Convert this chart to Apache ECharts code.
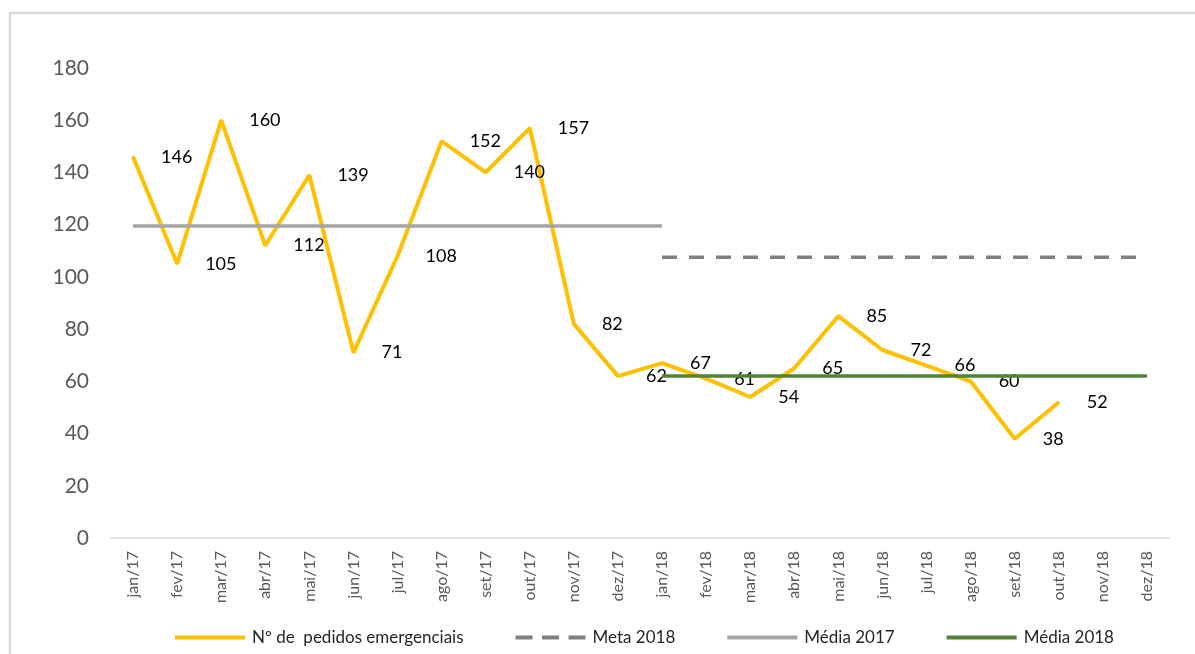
<!DOCTYPE html>
<html>
<head>
<meta charset="utf-8">
<script src="https://cdn.jsdelivr.net/npm/echarts@6/dist/echarts.min.js"></script>
<style>
html,body{margin:0;padding:0;background:#fff;}
#chart{width:1195px;height:654px;}
</style>
</head>
<body>
<div id="chart"></div>
<script>
const categories = ['jan/17','fev/17','mar/17','abr/17','mai/17','jun/17','jul/17','ago/17','set/17','out/17','nov/17','dez/17',
  'jan/18','fev/18','mar/18','abr/18','mai/18','jun/18','jul/18','ago/18','set/18','out/18','nov/18','dez/18'];
const pedidos = [146,105,160,112,139,71,108,152,140,157,82,62,67,61,54,65,85,72,66,60,38,52,null,null];
const meta2018 = [null,null,null,null,null,null,null,null,null,null,null,null,
  107.5,107.5,107.5,107.5,107.5,107.5,107.5,107.5,107.5,107.5,107.5,107.5];
const media2017 = [119.5,119.5,119.5,119.5,119.5,119.5,119.5,119.5,119.5,119.5,119.5,119.5,119.5,
  null,null,null,null,null,null,null,null,null,null,null];
const media2018 = [null,null,null,null,null,null,null,null,null,null,null,null,
  62,62,62,62,62,62,62,62,62,62,62,62];
const yTicks = [0,20,40,60,80,100,120,140,160,180];

const FONT = 'Lato, "Open Sans", sans-serif';
const chart = echarts.init(document.getElementById('chart'), null, {renderer:'canvas'});
chart.setOption({
  backgroundColor:'#ffffff',
  animation:false,
  graphic:[{
    type:'rect', shape:{x:10, y:13, width:1200, height:700},
    style:{fill:'none', stroke:'#d9d9d9', lineWidth:2.5}, silent:true, z:-1
  }],
  grid:{left:111, right:26, top:68, bottom:116, containLabel:false},
  legend:{
    left:170, top:624, itemWidth:70, itemHeight:4, itemGap:52,
    textStyle:{fontFamily:FONT, fontSize:17, color:'#262626', padding:[0,0,0,2]},
    data:[
      {name:'Nº de  pedidos emergenciais', icon:'rect'},
      {name:'Meta 2018', icon:'path://M0,0h17v4h-17z M26.5,0h17v4h-17z M53,0h17v4h-17z'},
      {name:'Média 2017', icon:'rect'},
      {name:'Média 2018', icon:'rect'}
    ]
  },
  xAxis:{
    type:'category', data:categories, boundaryGap:true,
    axisLine:{lineStyle:{color:'#d9d9d9', width:1.5}},
    axisTick:{show:false},
    axisLabel:{rotate:90, interval:0, margin:13, fontFamily:FONT, fontSize:16, color:'#595959'}
  },
  yAxis:{
    type:'value', min:yTicks[0], max:yTicks[yTicks.length-1], interval:20,
    axisLine:{show:false}, axisTick:{show:false}, splitLine:{show:false},
    axisLabel:{margin:22, fontFamily:FONT, fontSize:21, color:'#595959'}
  },
  series:[
    {
      name:'Nº de  pedidos emergenciais', type:'line', data:pedidos,
      symbol:'circle', symbolSize:2, showSymbol:true,
      lineStyle:{color:'#FFC000', width:4},
      itemStyle:{color:'#FFC000'},
      label:{show:true, position:'right', distance:27, fontFamily:FONT, fontSize:18, color:'#000000'},
      z:2
    },
    {
      name:'Meta 2018', type:'line', data:meta2018, symbol:'none',
      lineStyle:{color:'#808080', width:3.5, type:[15,12]},
      itemStyle:{color:'#808080'}, z:3
    },
    {
      name:'Média 2017', type:'line', data:media2017, symbol:'none',
      lineStyle:{color:'#A5A5A5', width:3.5},
      itemStyle:{color:'#A5A5A5'}, z:3
    },
    {
      name:'Média 2018', type:'line', data:media2018, symbol:'none',
      lineStyle:{color:'#548235', width:3.5},
      itemStyle:{color:'#548235'}, z:3
    }
  ]
});
</script>
</body>
</html>
